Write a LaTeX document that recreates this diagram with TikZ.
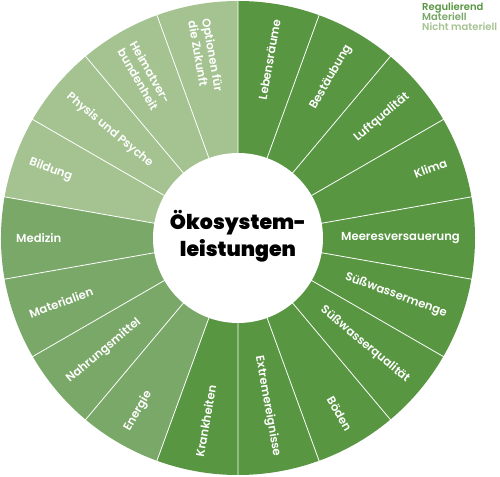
\documentclass[tikz,border=0pt]{standalone}
\usepackage{fontspec}
\setmainfont{Poppins}[BoldFont={Poppins SemiBold}]
\newfontfamily\heavyfont{Poppins Bold}
\usetikzlibrary{positioning}
\definecolor{regul}{HTML}{589642}
\definecolor{mater}{HTML}{7AA868}
\definecolor{nimat}{HTML}{A4C391}
\tikzset{
	every picture/.style = {/utils/exec={\bfseries}},
	sep/.style = {draw = white, line width = 0.8pt},
	hub/.style = {circle, fill = white, minimum size = 170pt, inner sep = 0pt},
	hubtext/.style = {align = center, text = black, font = {\heavyfont\fontsize{20.5pt}{27pt}\selectfont}},
	lblr/.style = {anchor = east, text = white, inner sep = 0pt, align = left, font = {\fontsize{11.6pt}{14pt}\selectfont\bfseries}},
	lbll/.style = {anchor = west, text = white, inner sep = 0pt, align = left, font = {\fontsize{11.6pt}{14pt}\selectfont\bfseries}},
	legend/.style = {anchor = base west, inner sep = 0pt, font = {\fontsize{10pt}{10pt}\selectfont\bfseries}}
}

\begin{document}
\begin{tikzpicture}[x = 1pt, y = 1pt]
	\useasboundingbox (-238,-238) rectangle (262,238);
	
	%%%%%%%% wheel %%%%%%%%
	\fill [regul] (0,0) -- (90:237) arc [start angle = 90, end angle = -110, radius = 237] -- cycle;
	\fill [mater] (0,0) -- (-110:237) arc [start angle = -110, end angle = -190, radius = 237] -- cycle;
	\fill [nimat] (0,0) -- (170:237) arc [start angle = 170, end angle = 90, radius = 237] -- cycle;
	
	% separators
	\draw [sep] (90:80) -- (90:238) (70:80) -- (70:238) (50:80) -- (50:238) (30:80) -- (30:238)
		(10:80) -- (10:238) (-10:80) -- (-10:238) (-30:80) -- (-30:238) (-50:80) -- (-50:238)
		(-70:80) -- (-70:238) (-90:80) -- (-90:238) (-110:80) -- (-110:238) (-130:80) -- (-130:238)
		(-150:80) -- (-150:238) (-170:80) -- (-170:238) (170:80) -- (170:238) (150:80) -- (150:238)
		(130:80) -- (130:238) (110:80) -- (110:238);
	
	% hub
	\node (hub) [hub] at (0,0) {};
	\node (hubtext) [hubtext] at (0,2) {Ökosystem-\\leistungen};
	
	%% regulating
	\node (lebensraeume) [lblr, rotate = 80] at (80:222) {Lebensräume};
	\node (bestaeubung) [lblr, rotate = 60] at (60:222) {Bestäubung};
	\node (luft) [lblr, rotate = 40] at (40:222) {Luftqualität};
	\node (klima) [lblr, rotate = 20] at (20:222) {Klima};
	\node (meer) [lblr, rotate = 0] at (0:222) {Meeresversauerung};
	\node (swmenge) [lblr, rotate = -20] at (-20:222) {Süßwassermenge};
	\node (swqual) [lblr, rotate = -40] at (-40:222) {Süßwasserqualität};
	\node (boeden) [lblr, rotate = -60] at (-60:222) {Böden};
	\node (extrem) [lblr, rotate = -80] at (-80:222) {Extremereignisse};
	\node (krank) [lbll, rotate = 80] at (-100:222) {Krankheiten};
	
	%% material
	\node (energie) [lbll, rotate = 60] at (-120:222) {Energie};
	\node (nahrung) [lbll, rotate = 40] at (-140:222) {Nahrungsmittel};
	\node (material) [lbll, rotate = 20] at (-160:222) {Materialien};
	\node (medizin) [lbll, rotate = 0] at (180:222) {Medizin};
	
	%% non-material
	\node (bildung) [lbll, rotate = -20] at (160:222) {Bildung};
	\node (physis) [lbll, rotate = -40] at (140:222) {Physis und Psyche};
	\node (heimat) [lbll, rotate = -60] at (120:222) {Heimatver-\\bundenheit};
	\node (zukunft) [lbll, rotate = -80] at (100:222) {Optionen für\\die Zukunft};
	
	% legend
	\node (leg_reg) [legend, text = regul] at (184,227.5) {Regulierend};
	\node (leg_mat) [legend, text = mater] at (184,217.5) {Materiell};
	\node (leg_nim) [legend, text = nimat] at (184,207.5) {Nicht materiell};
\end{tikzpicture}
\end{document}
